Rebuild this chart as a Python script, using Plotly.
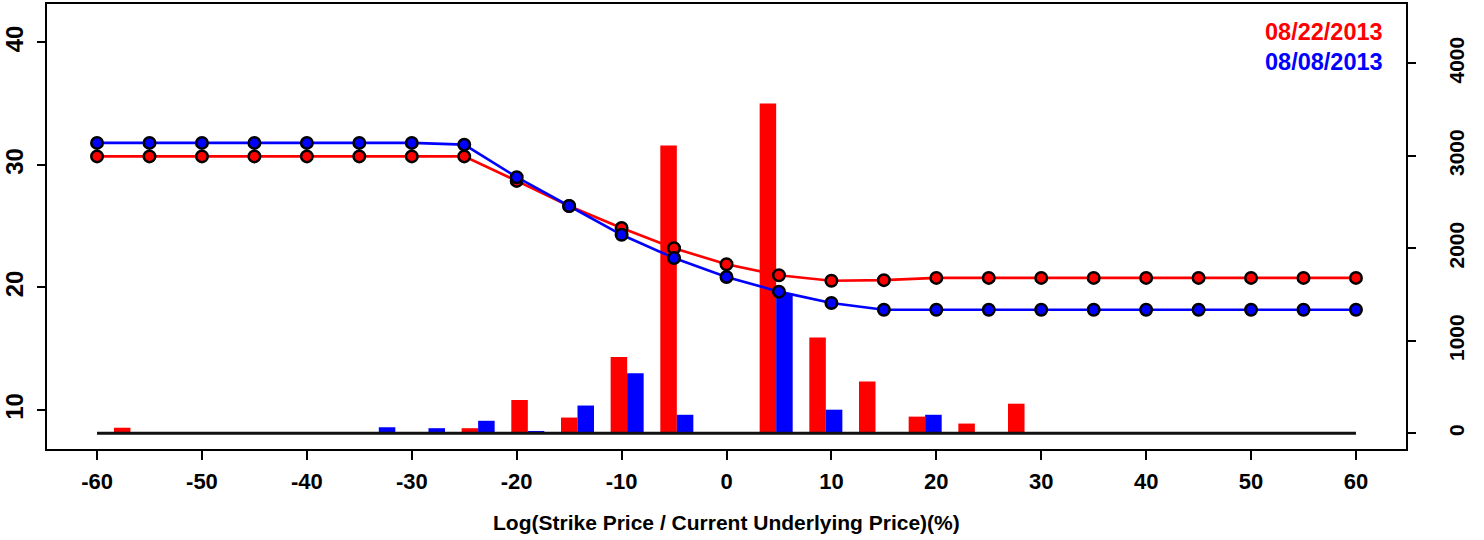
import plotly.graph_objects as go

# ---- data ----
strikes = list(range(-60, 65, 5))
strike_labels = [str(s) for s in strikes]

iv_0822 = [30.7, 30.7, 30.7, 30.7, 30.7, 30.7, 30.7, 30.7,
           28.7, 26.65, 24.85, 23.2, 21.9, 21.0, 20.55, 20.6,
           20.78, 20.78, 20.78, 20.78, 20.78, 20.78, 20.78, 20.78, 20.78]
iv_0808 = [31.8, 31.8, 31.8, 31.8, 31.8, 31.8, 31.8, 31.66,
           29.0, 26.65, 24.3, 22.4, 20.86, 19.66, 18.73, 18.18,
           18.18, 18.18, 18.18, 18.18, 18.18, 18.18, 18.18, 18.18, 18.18]

vol_0822 = [60, 0, 0, 0, 0, 10, 0, 55, 360, 170, 825, 3110, 0, 3565, 1035, 560,
            180, 105, 320, 0, 0, 0, 0, 0, 0]
vol_0808 = [0, 0, 0, 0, 10, 65, 55, 135, 25, 300, 650, 200, 0, 1510, 255, 0,
            200, 0, 0, 0, 0, 0, 0, 0, 0]

x_ticks = list(range(-60, 70, 10))
x_ticktext = [str(v) for v in x_ticks]  # plain hyphen minus, as in the reference
left_ticks = [10, 20, 30, 40]
right_ticks = [0, 1000, 2000, 3000, 4000]

date_new = "08/22/2013"
date_old = "08/08/2013"

RED = "#FF0000"
BLUE = "#0000FF"
FONT = "Liberation Sans"

fig = go.Figure()

# bars (main axes: x / y, drawn beneath)
fig.add_trace(go.Bar(x=strike_labels, y=vol_0822, marker=dict(color=RED, line=dict(width=0)),
                     xaxis="x", yaxis="y", showlegend=False))
fig.add_trace(go.Bar(x=strike_labels, y=vol_0808, marker=dict(color=BLUE, line=dict(width=0)),
                     xaxis="x", yaxis="y", showlegend=False))

# lines (overlay axes: x2 / y2, drawn on top)
fig.add_trace(go.Scatter(x=strikes, y=iv_0822, mode="lines+markers",
                         line=dict(color=RED, width=2.6),
                         marker=dict(color=RED, size=11.5, line=dict(color="black", width=2.5)),
                         xaxis="x2", yaxis="y2", showlegend=False))
fig.add_trace(go.Scatter(x=strikes, y=iv_0808, mode="lines+markers",
                         line=dict(color=BLUE, width=2.6),
                         marker=dict(color=BLUE, size=11.5, line=dict(color="black", width=2.5)),
                         xaxis="x2", yaxis="y2", showlegend=False))

# baseline at zero volume
fig.add_shape(type="line", xref="x2", yref="y", x0=min(strikes), x1=max(strikes), y0=0, y1=0,
              line=dict(color="#111111", width=3), layer="above")


def tf(size):
    return dict(family=FONT, size=size, color="black", weight="bold")


fig.update_layout(
    width=1484, height=540,
    margin=dict(l=47, r=78, t=4, b=91, autoexpand=False),
    paper_bgcolor="white", plot_bgcolor="white",
    barmode="group", bargap=0.335, bargroupgap=0,
    xaxis=dict(type="category", range=[-1.68, 25.68], visible=False, fixedrange=True,
               automargin=False),
    yaxis=dict(side="right", range=[-170, 4641], tickvals=right_ticks, ticks="outside",
               ticklen=9, tickwidth=2, tickcolor="black", showgrid=False, zeroline=False,
               showline=False, tickangle=-90, tickfont=tf(21), ticklabelstandoff=23,
               automargin=False),
    xaxis2=dict(overlaying="x", anchor="y2", side="bottom", range=[-64.77, 64.77],
                tickvals=x_ticks, ticktext=x_ticktext, ticks="outside", ticklen=9, tickwidth=2,
                tickcolor="black", showgrid=False, zeroline=False, showline=True, linewidth=2,
                linecolor="black", mirror=True, tickfont=tf(22), ticklabelstandoff=3,
                automargin=False),
    yaxis2=dict(overlaying="y", anchor="x2", side="left", range=[6.815, 43.14],
                tickvals=left_ticks, ticks="outside", ticklen=8, tickwidth=2, tickcolor="black",
                showgrid=False, zeroline=False, showline=True, linewidth=2, linecolor="black",
                mirror=True, tickangle=-90, tickfont=tf(24), ticklabelstandoff=4,
                automargin=False),
    annotations=[
        dict(text="Log(Strike Price / Current Underlying Price)(%)", xref="paper", yref="paper",
             x=0.5, y=-0.166, xanchor="center", yanchor="middle", showarrow=False,
             font=tf(21)),
        dict(text=date_new, xref="paper", yref="paper", x=0.9846, y=0.937,
             xanchor="right", yanchor="middle", showarrow=False,
             font=dict(family=FONT, size=23.5, color=RED, weight="bold")),
        dict(text=date_old, xref="paper", yref="paper", x=0.9846, y=0.870,
             xanchor="right", yanchor="middle", showarrow=False,
             font=dict(family=FONT, size=23.5, color=BLUE, weight="bold")),
    ],
)

fig.write_html("out.html",
               config={"displayModeBar": False},
               post_script="document.body.style.margin='0';document.body.style.overflow='hidden';")
